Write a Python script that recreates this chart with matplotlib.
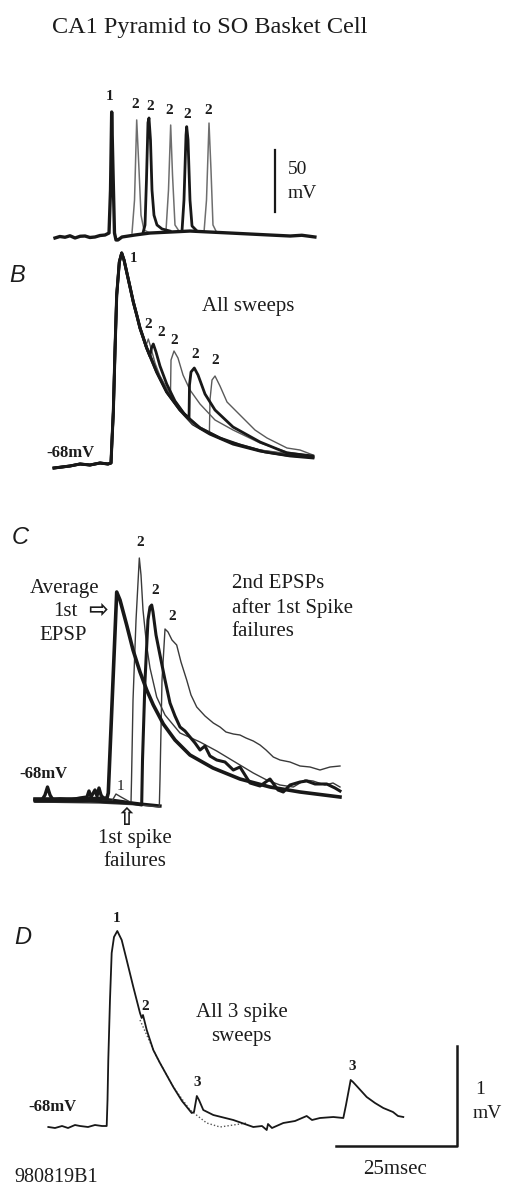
import matplotlib.pyplot as plt

# ---- data (time in ms, voltage in mV) ----
# A: spikes, absolute membrane potential
a_t = [0, 1.0, 2.07, 3.1, 4.13, 5.2, 6.2, 7.2, 8.26, 9.3, 10.33, 11.16, 11.47, 11.71, 11.98,
       12.29, 12.6, 13.0, 13.84, 16.5, 19.6, 23.8, 27.9, 32.0, 36.2, 40.3, 44.4, 48.6, 51.0, 53.7]
a_v = [-68.8, -67.6, -68.2, -67.0, -68.8, -67.4, -67.2, -68.4, -68, -66.8, -66.4, -64.8, -30.1, 32.8, -14,
       -64.8, -70.4, -70.4, -68, -66.4, -64.8, -64, -63.2, -64, -64.8, -65.6, -66.4, -67.2, -66.6, -68]
a_s2a_t = [15.91, 16.43, 16.88, 17.36, 17.77, 18.39, 19.63]
a_s2a_v = [-64.8, -38.2, 26.4, -14.1, -50.4, -62.4, -64.8]
a_s2b_t = [18.18, 18.6, 18.9, 19.21, 19.42, 19.73, 20.04, 20.45, 21.07, 22.11, 23.76]
a_s2b_v = [-64.8, -58.3, -22, 24.2, 28, 10.2, -30.1, -50.4, -58.3, -61.5, -63.2]
a_s2c_t = [22.93, 23.45, 23.9, 24.28, 24.79, 25.62]
a_s2c_v = [-63.2, -30.1, 22.3, -18, -58.3, -63.2]
a_s2d_t = [26.24, 26.65, 27.07, 27.21, 27.48, 27.89, 28.31, 29.13]
a_s2d_v = [-63.2, -38.2, 14.3, 21, 10.6, -38.2, -59.1, -62.4]
a_s2e_t = [30.79, 31.3, 31.82, 32.23, 32.64, 33.26]
a_s2e_v = [-64, -38.2, 23.9, -14, -58.3, -63.2]

# B: EPSPs, mV above rest (-68 mV)
b_head_t = [-0.2, 1.45, 3.1, 5.17, 7.23, 9.3, 10.95, 11.57, 11.78, 12.05, 12.4, 12.75,
            13.29, 13.78, 14.26, 14.81, 15.5, 16.18, 16.94, 17.56]
b_head_v = [-0.02, -0.01, 0.0, 0.02, 0.01, 0.03, 0.02, 0.03, 0.26, 0.54, 1.16, 1.71,
            2.04, 2.13, 2.06, 1.94, 1.79, 1.64, 1.50, 1.38]
b_fail_t = [18.95, 21.01, 23.08, 25.83, 28.5, 32.0, 36.8, 42.4, 47.9, 53.3]
b_fail_v = [1.18, 0.94, 0.74, 0.56, 0.42, 0.32, 0.22, 0.15, 0.11, 0.09]
b_2a_t = [18.7, 19.28, 19.83, 20.66, 21.69, 23.76, 26.86, 29.96, 35.12, 42.36, 53.3]
b_2a_v = [1.19, 1.27, 1.18, 1.03, 0.90, 0.72, 0.52, 0.39, 0.26, 0.16, 0.09]
b_2b_t = [18.95, 19.6, 19.94, 20.31, 20.87, 21.69, 23.08, 24.79, 26.86, 29.96, 34.09, 38.22, 43.39, 48.55, 53.3]
b_2b_v = [1.18, 1.10, 1.18, 1.22, 1.14, 1.00, 0.82, 0.65, 0.51, 0.38, 0.28, 0.21, 0.14, 0.10, 0.08]
b_2c_t = [18.95, 21.01, 23.08, 23.86, 23.97, 24.59, 25.41, 26.45, 27.89, 29.96, 33.06, 36.78, 42.36, 47.93, 53.3]
b_2c_v = [1.18, 0.94, 0.76, 0.72, 1.06, 1.15, 1.08, 0.91, 0.76, 0.62, 0.46, 0.36, 0.23, 0.14, 0.10]
b_2d_t = [18.95, 21.01, 23.08, 25.83, 27.69, 27.79, 28.1, 28.78, 29.55, 30.99, 33.06, 36.78, 42.36, 47.93, 53.3]
b_2d_v = [1.18, 0.94, 0.74, 0.56, 0.48, 0.81, 0.94, 0.98, 0.91, 0.72, 0.56, 0.39, 0.24, 0.13, 0.10]
b_2e_t = [18.95, 21.01, 23.08, 25.83, 28.5, 31.9, 32.02, 32.44, 33.06, 34.09, 35.54, 38.22,
          41.32, 43.8, 47.93, 50.62, 53.3]
b_2e_v = [1.18, 0.94, 0.74, 0.56, 0.42, 0.33, 0.66, 0.86, 0.90, 0.80, 0.64, 0.51,
          0.36, 0.28, 0.18, 0.16, 0.11]

# C: 2nd EPSPs after 1st spike failures, mV above rest
c_fail_t = [-4.13, -2.69, -2.07, -1.55, -1.03, -0.41, 1.03, 3.1, 5.17, 6.61, 7.02, 7.44, 8.26,
            8.68, 9.09, 9.5, 10.12, 11.36, 13.02, 14.46, 15.91, 17.56, 19.63, 21.69]
c_fail_v = [-0.02, -0.02, 0.03, 0.11, 0.03, -0.02, -0.01, -0.02, 0.0, 0.01, 0.07, 0.01, 0.08,
            0.02, 0.10, 0.03, -0.01, -0.02, -0.03, -0.04, -0.05, -0.06, -0.07, -0.08]
c_avg_t = [-4.13, 1.03, 6.2, 10.74, 11.01, 11.78, 12.75, 13.43, 14.81, 16.12, 17.56, 18.95,
           20.31, 22.38, 24.79, 27.89, 32.64, 38.22, 44.42, 50.62, 58.88]
c_avg_v = [-0.01, -0.01, -0.01, 0.0, 0.05, 0.94, 2.06, 1.98, 1.73, 1.48, 1.26, 1.08,
           0.93, 0.74, 0.58, 0.43, 0.30, 0.19, 0.11, 0.06, 0.01]
c_2top_t = [-4.13, 5.17, 11.78, 12.6, 13.64, 15.5, 15.7, 15.81, 16.12, 16.74, 17.42, 17.77, 18.18,
            18.95, 19.63, 21.01, 22.73, 25.83, 29.96, 33.41, 36.84, 40.97, 43.74, 46.49,
            49.24, 51.65, 53.31, 55.79, 57.44, 58.88]
c_2top_v = [-0.04, -0.03, -0.03, 0.04, 0.01, -0.04, -0.05, 0.18, 0.98, 1.78, 2.40, 2.23, 1.88,
            1.52, 1.30, 1.01, 0.83, 0.65, 0.56, 0.47, 0.37, 0.25, 0.18, 0.13,
            0.11, 0.18, 0.17, 0.13, 0.15, 0.11]
c_2mid_t = [-4.13, 7.23, 15.5, 17.91, 18.08, 18.6, 19.21, 19.63, 19.98, 20.25, 20.87, 21.69,
            22.73, 23.76, 24.79, 25.83, 26.86, 27.89, 28.93, 29.96, 30.99, 32.02, 33.41,
            35.12, 36.84, 38.22, 40.29, 42.36, 44.42, 46.07, 47.17, 48.55, 50.62, 52.0,
            53.72, 56.14, 57.85, 58.88]
c_2mid_v = [-0.03, -0.03, -0.05, -0.07, 0.38, 1.18, 1.78, 1.91, 1.93, 1.86, 1.63, 1.43,
            1.18, 0.95, 0.82, 0.71, 0.67, 0.61, 0.55, 0.48, 0.52, 0.42, 0.38,
            0.36, 0.28, 0.31, 0.15, 0.12, 0.19, 0.08, 0.06, 0.13, 0.16, 0.17,
            0.14, 0.14, 0.10, 0.07]
c_2right_t = [-4.13, 9.3, 17.56, 21.38, 21.55, 21.69, 22.11, 22.73, 23.35, 24.17, 25.14, 26.03,
              27.21, 28.1, 29.28, 30.99, 32.71, 34.09, 35.33, 36.84, 38.22, 39.46, 40.97,
              42.36, 43.6, 45.1, 46.49, 48.55, 50.62, 52.69, 54.75, 56.82, 58.88]
c_2right_v = [-0.04, -0.05, -0.07, -0.09, -0.09, 0.18, 1.18, 1.69, 1.66, 1.58, 1.53, 1.36,
              1.18, 1.03, 0.91, 0.82, 0.75, 0.71, 0.66, 0.64, 0.63, 0.60, 0.57,
              0.53, 0.48, 0.41, 0.38, 0.36, 0.32, 0.31, 0.28, 0.31, 0.32]

# D: all 3-spike sweeps, mV above rest
d_t = [-1.38, 0, 1.45, 2.69, 4.13, 5.17, 6.82, 8.26, 9.71, 10.68, 10.85, 11.01, 11.36, 11.71,
       12.19, 12.87, 13.78, 14.81, 16.18, 17.56, 17.91, 18.18, 18.95, 20.31, 21.69, 24.44,
       26.24, 28.24, 28.72, 29.3, 29.75, 30.64, 32.71, 36.84, 40.97, 42.77, 43.74, 44.01,
       44.83, 47.17, 49.59, 52.0, 53.1, 54.75, 57.5, 59.57, 60.12, 61.09, 61.57, 62.33,
       64.4, 66.12, 67.83, 69.83, 70.87, 71.96]
d_v = [0.0, -0.01, 0.01, -0.01, 0.02, 0.01, 0.0, 0.02, 0.01, 0.01, 0.27, 0.67, 1.27, 1.74,
       1.90, 1.96, 1.87, 1.67, 1.40, 1.14, 1.09, 1.12, 0.97, 0.77, 0.64, 0.40,
       0.26, 0.14, 0.15, 0.31, 0.27, 0.17, 0.12, 0.07, 0.0, 0.01, -0.03, 0.03,
       -0.01, 0.04, 0.06, 0.11, 0.07, 0.09, 0.10, 0.09, 0.22, 0.47, 0.45, 0.41,
       0.30, 0.24, 0.19, 0.15, 0.11, 0.10]
d_dot_t = [17.56, 18.95, 21.01, 24.44, 27.89, 31.34, 34.09, 36.84, 39.61]
d_dot_v = [1.07, 0.92, 0.70, 0.40, 0.17, 0.04, 0.0, 0.02, 0.04]

W, H = 506, 1189
X0, XS = 55, 4.84          # pixel of t = 0 and pixels per ms
INK = '#181818'
GREY = '#5a5a5a'
SERIF = 'Liberation Serif'

fig = plt.figure(figsize=(W / 100, H / 100), dpi=100)


def panel(base_px, px_per_unit, rest=0.0):
    ax = fig.add_axes([0, 0, 1, 1])
    ax.set_xlim(-X0 / XS, (W - X0) / XS)
    ax.set_ylim(rest - (H - base_px) / px_per_unit, rest + base_px / px_per_unit)
    ax.axis('off')
    return ax


ov = fig.add_axes([0, 0, 1, 1])
ov.set_xlim(0, W)
ov.set_ylim(H, 0)
ov.axis('off')


def txt(x, y, s, size=14.5, weight='normal', ha='center', family=SERIF, style='normal'):
    ov.text(x, y, s, fontsize=size, fontweight=weight, ha=ha, va='center',
            family=family, style=style, color='#1c1c1c')


# ---- A ----
ax_a = panel(237, 1.24, -68)
for t, v in [(a_s2a_t, a_s2a_v), (a_s2c_t, a_s2c_v), (a_s2e_t, a_s2e_v)]:
    ax_a.plot(t, v, color='#6e6e6e', lw=1.1)
ax_a.plot(a_t, a_v, color=INK, lw=2.4)
for t, v in [(a_s2b_t, a_s2b_v), (a_s2d_t, a_s2d_v)]:
    ax_a.plot(t, v, color=INK, lw=2.0)
ax_a.plot([45.45, 45.45], [-48, 2], color=INK, lw=1.6)

txt(210, 27, 'CA1 Pyramid to SO Basket Cell', size=17.5)
txt(110, 97, '1', size=11, weight='bold')
for x, y in [(135, 104), (150, 106), (169, 111), (187, 115), (208, 111)]:
    txt(x, y, '2', size=11, weight='bold')
txt(288, 170, '50', size=14, ha='left')
txt(288, 194, 'mV', size=14, ha='left')

# ---- B ----
ax_b = panel(466, 100)
b_tails = [(b_fail_t, b_fail_v, INK, 2.2), (b_2a_t, b_2a_v, GREY, 1.0),
           (b_2c_t, b_2c_v, GREY, 1.0), (b_2e_t, b_2e_v, GREY, 1.0),
           (b_2b_t, b_2b_v, INK, 2.0), (b_2d_t, b_2d_v, INK, 2.0)]
for t, v, c, lw in b_tails:
    ax_b.plot(b_head_t + t, b_head_v + v, color=c, lw=lw)

txt(17, 275, 'B', size=17, family='Liberation Sans', style='italic')
txt(133, 258, '1', size=10.5, weight='bold')
for x, y in [(147.7, 325), (161, 333), (174, 341), (195, 355), (215, 360)]:
    txt(x, y, '2', size=11, weight='bold')
txt(248, 307, 'All sweeps', size=15)
txt(70, 453, '-68mV', size=12, weight='bold')

# ---- C ----
ax_c = panel(798, 100)
ax_c.plot(c_fail_t, c_fail_v, color=INK, lw=2.4)
ax_c.plot(c_2top_t, c_2top_v, color='#3a3a3a', lw=1.0)
ax_c.plot(c_2right_t, c_2right_v, color='#3a3a3a', lw=1.0)
ax_c.plot(c_2mid_t, c_2mid_v, color=INK, lw=2.2)
ax_c.plot(c_avg_t, c_avg_v, color=INK, lw=2.6)

txt(20, 537, 'C', size=17, family='Liberation Sans', style='italic')
txt(140, 543, '2', size=11, weight='bold')
txt(155, 590, '2', size=11, weight='bold')
txt(171.7, 617, '2', size=11, weight='bold')
txt(120.7, 787, '1', size=11)
txt(65, 588, 'Average', size=15)
txt(65, 612, '1st', size=15)
txt(63, 635, 'EPSP', size=15)
txt(98.5, 610, '\u21e8', size=17, weight='bold', family='DejaVu Sans')
txt(231.7, 583, '2nd EPSPs', size=15, ha='left')
txt(231.7, 608, 'after 1st Spike', size=15, ha='left')
txt(231.7, 632, 'failures', size=15, ha='left')
txt(43, 774, '-68mV', size=12, weight='bold')
txt(126.5, 818, '\u21e7', size=17, weight='bold', family='DejaVu Sans')
txt(135, 838, '1st spike', size=15)
txt(135, 861, 'failures', size=15)

# ---- D ----
ax_d = panel(1127, 100)
ax_d.plot(d_dot_t, d_dot_v, color='#555555', lw=1.0, ls=(0, (1, 1.5)))
ax_d.plot(d_t, d_v, color=INK, lw=1.3)
ax_d.plot([58.06, 83.06, 83.06], [-0.19, -0.19, 0.81], color=INK, lw=1.8)

txt(23, 937, 'D', size=17, family='Liberation Sans', style='italic')
txt(116.7, 918, '1', size=11, weight='bold')
txt(145, 1007, '2', size=11, weight='bold')
txt(197.3, 1083, '3', size=11, weight='bold')
txt(351.7, 1067, '3', size=11, weight='bold')
txt(241.7, 1013, 'All 3 spike', size=15)
txt(241.7, 1037, 'sweeps', size=15)
txt(52.5, 1107, '-68mV', size=12, weight='bold')
txt(475, 1090, '1', size=14, ha='left')
txt(472.7, 1113, 'mV', size=14, ha='left')
txt(395, 1170, '25msec', size=15)
txt(14, 1178, '980819B1', size=14.5, ha='left')

fig.savefig('out.png', dpi=100, facecolor='white')
